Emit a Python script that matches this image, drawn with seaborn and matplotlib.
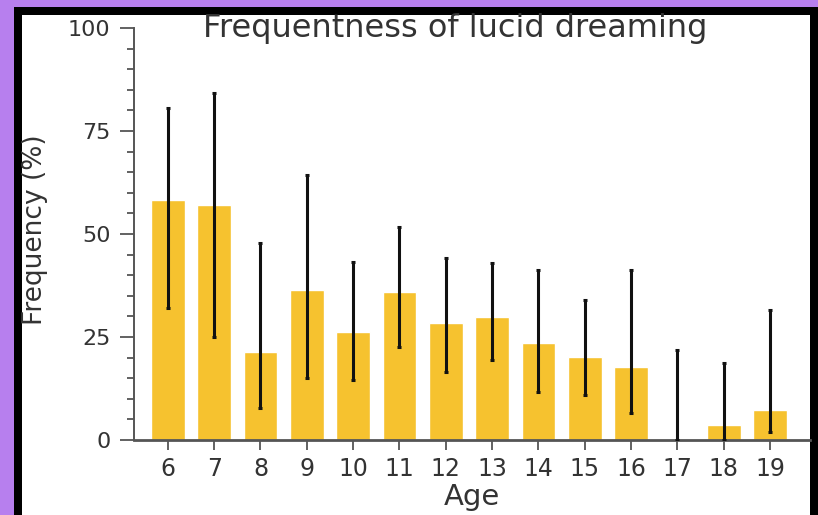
import numpy as np
import pandas as pd
import seaborn as sns
import matplotlib.pyplot as plt
from matplotlib.patches import Rectangle
from matplotlib.ticker import MultipleLocator

ages = [6, 7, 8, 9, 10, 11, 12, 13, 14, 15, 16, 17, 18, 19]
freq = [58.3, 57.0, 21.4, 36.4, 26.2, 35.9, 28.4, 29.9, 23.5, 20.2, 17.8, 0.0, 3.6, 7.3]
err_low = [32.0, 25.0, 7.8, 15.0, 14.6, 22.6, 16.5, 19.4, 11.7, 10.9, 6.5, 0.0, 0.0, 1.9]
err_high = [80.6, 84.2, 47.8, 64.3, 43.2, 51.7, 44.2, 43.0, 41.3, 34.0, 41.3, 21.8, 18.6, 31.6]

df = pd.DataFrame({"Age": [str(a) for a in ages], "freq": freq})

sns.set_style("white")
plt.rcParams["font.family"] = ["DejaVu Sans"]

fig = plt.figure(figsize=(8.18, 5.15), dpi=100, facecolor="#b77fee")
# black frame + white panel behind the axes
fig.patches.append(Rectangle((14 / 818, 0), 1 - 14 / 818, 1 - 7 / 515, transform=fig.transFigure,
                             facecolor="black", edgecolor="none", zorder=-10))
fig.patches.append(Rectangle((22 / 818, 0), (810 - 22) / 818, 1 - 15 / 515, transform=fig.transFigure,
                             facecolor="white", edgecolor="none", zorder=-9))

ax = fig.add_axes([134 / 818, 75 / 515, (810 - 134) / 818, 412 / 515])
ax.patch.set_alpha(0)

sns.barplot(data=df, x="Age", y="freq", color="#f6c22f", saturation=1, width=0.72, ax=ax)
yerr = [np.array(freq) - np.array(err_low), np.array(err_high) - np.array(freq)]
ax.errorbar(np.arange(len(ages)), freq, yerr=yerr, fmt="none", ecolor="#111111",
            elinewidth=2.2, capsize=1.5, capthick=2.2, zorder=3)

ax.set_ylim(0, 100)
ax.set_xlim(-0.73, 13.86)
ax.set_yticks([0, 25, 50, 75, 100])
ax.yaxis.set_minor_locator(MultipleLocator(5))
ax.tick_params(axis="y", which="major", direction="out", length=10, width=1.3, color="#555555",
               labelsize=16, labelcolor="#333333", left=True, pad=7)
ax.tick_params(axis="y", which="minor", direction="out", length=5, width=1.3, color="#555555", left=True)
ax.tick_params(axis="x", direction="out", length=7, width=1.3, color="#555555",
               labelsize=17, labelcolor="#333333", bottom=True, pad=5)

sns.despine(ax=ax, top=True, right=True)
ax.spines["left"].set_color("#555555")
ax.spines["left"].set_linewidth(1.4)
ax.spines["bottom"].set_color("#555555")
ax.spines["bottom"].set_linewidth(2)

ax.set_xlabel("")
ax.set_ylabel("")
fig.text(472 / 818, 1 - 497 / 515, "Age", ha="center", va="center", fontsize=21, color="#333333")
fig.text(35 / 818, 1 - 230 / 515, "Frequency (%)", rotation=90, ha="center", va="center",
         fontsize=19, color="#333333")
fig.text(455 / 818, 1 - 29 / 515, "Frequentness of lucid dreaming", ha="center", va="center",
         fontsize=23, color="#333333")

fig.savefig("out.png", dpi=100, facecolor=fig.get_facecolor())
